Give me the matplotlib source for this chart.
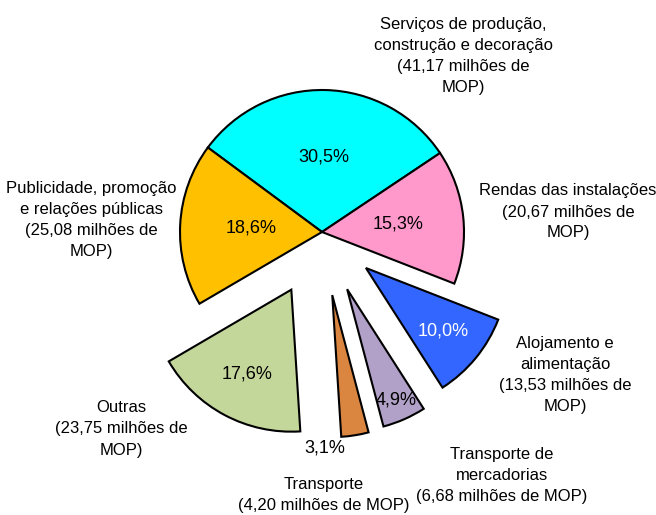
import numpy as np
import matplotlib.pyplot as plt

# despesas por categoria (milhões de MOP), ordem dos ponteiros do relógio a partir do topo
categorias = ["Serviços de produção,\nconstrução e decoração\n(41,17 milhões de\nMOP)",
              "Rendas das instalações\n(20,67 milhões de\nMOP)",
              "Alojamento e\nalimentação\n(13,53 milhões de\nMOP)",
              "Transporte de\nmercadorias\n(6,68 milhões de MOP)",
              "Transporte\n(4,20 milhões de MOP)",
              "Outras\n(23,75 milhões de\nMOP)",
              "Publicidade, promoção\ne relações públicas\n(25,08 milhões de\nMOP)"]
valores = [41.17, 20.67, 13.53, 6.68, 4.20, 23.75, 25.08]
cores = ["#00FFFF", "#FF99CC", "#3366FF", "#B1A0C7", "#DA8640", "#C4D79B", "#FFC000"]
explode_frac = [0, 0, 0.40, 0.44, 0.45, 0.46, 0]

# posicoes dos textos (pixels, origem em baixo a esquerda)
pct_dist = [0.53, 0.54, 0.70, 0.85, 1.08, 0.67, 0.50]
pct_ang = [0, 0, 0, 0, -12, 0, 0]
pct_cor = ["black", "black", "white", "black", "black", "black", "black"]
label_pos = [(463, 459), (568, 303), (565, 140), (502, 39), (324, 20), (121, 86), (91, 295)]

plt.rcParams['font.family'] = ['Liberation Sans Narrow', 'Liberation Sans', 'DejaVu Sans']

fig = plt.figure(figsize=(6.56, 5.15), dpi=100)
ax = fig.add_axes([0, 0, 1, 1])

cx, cy, r = 322, 283, 142
wedges, _ = ax.pie(valores, colors=cores, radius=r, center=(cx, cy),
                   explode=[e * r for e in explode_frac], startangle=143.5,
                   counterclock=False, frame=False,
                   wedgeprops=dict(edgecolor='black', linewidth=1.5))
ax.set_xlim(0, 656)
ax.set_ylim(0, 515)
ax.set_aspect('equal')
ax.axis('off')

total = sum(valores)
for w, v, d, da, c in zip(wedges, valores, pct_dist, pct_ang, pct_cor):
    ang = np.deg2rad((w.theta1 + w.theta2) / 2 + da)
    x = w.center[0] + d * r * np.cos(ang)
    y = w.center[1] + d * r * np.sin(ang)
    txt = "{:.1f}%".format(100 * v / total).replace('.', ',')
    ax.text(x, y, txt, ha='center', va='center', fontsize=13, color=c)

for lab, (x, y) in zip(categorias, label_pos):
    ax.text(x, y, lab, ha='center', va='center', fontsize=12, linespacing=1.5)

fig.savefig("out.png", dpi=100)
